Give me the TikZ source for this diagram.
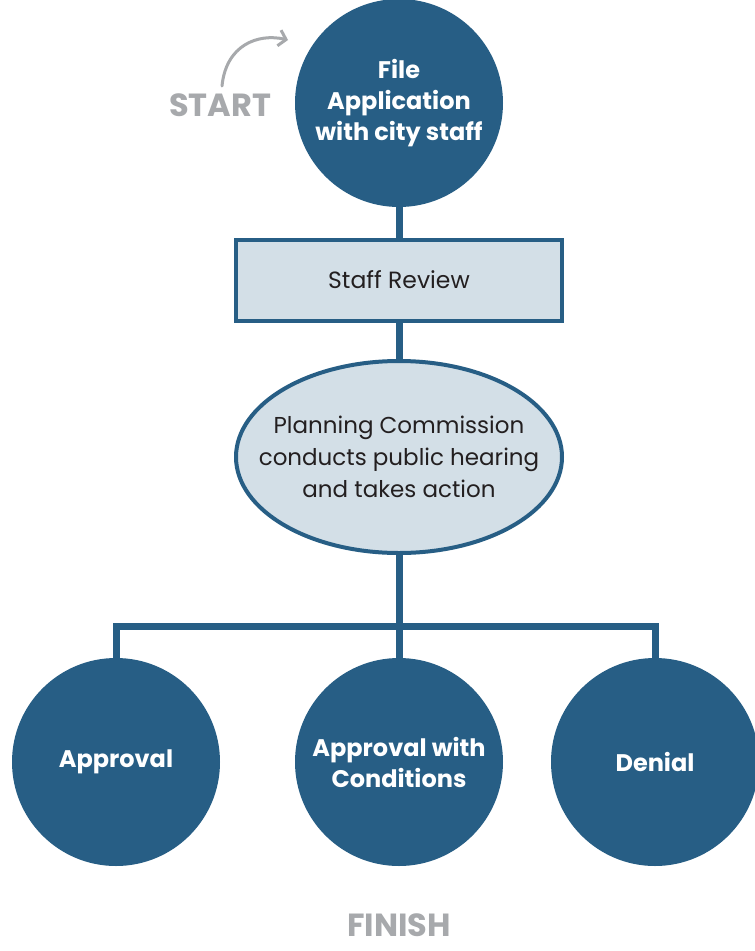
\documentclass[tikz,border=0pt]{standalone}
\usepackage{fontspec}
\setmainfont{Poppins}
\usepackage{xcolor}
\usepackage{tikz}
\usetikzlibrary{shapes.geometric,arrows.meta}
\definecolor{navy}{HTML}{275E85}
\definecolor{pale}{HTML}{D3DFE7}
\definecolor{ink}{HTML}{231F20}
\definecolor{grey}{HTML}{A7A9AC}
\tikzset{
  link/.style={draw=navy, line width=7pt},
  bubble/.style={circle, fill=navy, text=white, minimum size=208pt, inner sep=0pt,
    align=center, font=\fontsize{24}{31}\selectfont\bfseries},
  stepbox/.style={rectangle, draw=navy, fill=pale, line width=4pt, text=ink,
    minimum width=326pt, minimum height=81pt, font=\fontsize{23.5}{31}\selectfont},
  oval/.style={ellipse, draw=navy, fill=pale, line width=4pt,
    minimum width=326pt, minimum height=192pt, inner sep=0pt},
  ovaltext/.style={text=ink, align=center, font=\fontsize{23}{32}\selectfont},
  tag/.style={text=grey, font=\fontsize{32}{32}\selectfont\bfseries},
  startarrow/.style={draw=grey, line width=3pt, line cap=round, -{Straight Barb[length=7pt,width=16pt,line width=3pt]}},
}
\begin{document}
\begin{tikzpicture}[x=1pt,y=-1pt]
  \useasboundingbox[fill=white] (0,0) rectangle (755,951);

  \node[bubble] (file) at (399,103) {File\\Application\\with city staff};
  \node[stepbox] (review) at (399,280) {Staff Review};
  \node[oval, label={[ovaltext]center:Planning Commission\\conducts public hearing\\and takes action}]
    (hearing) at (399,457) {};
  \coordinate (bar) at (399,626);
  \node[bubble] (approve) at (116,762) {Approval};
  \node[bubble] (cond) at (399,762) {Approval with\\Conditions};
  \node[bubble] (deny) at (655,762) {Denial};

  % connectors
  \draw[link] (file) -- (review);
  \draw[link] (review) -- (hearing);
  \draw[link] (hearing) -- (bar);
  \draw[link] (approve.north) |- (bar) -| (deny.north);
  \draw[link] (bar) -- (cond);

  % start / finish
  \node[tag] (start) at (220,105) {START};
  \draw[startarrow] (222,86) .. controls (226,45) and (258,33) .. (288,40);
  \node[tag] (finish) at (399,925) {FINISH};
\end{tikzpicture}
\end{document}
